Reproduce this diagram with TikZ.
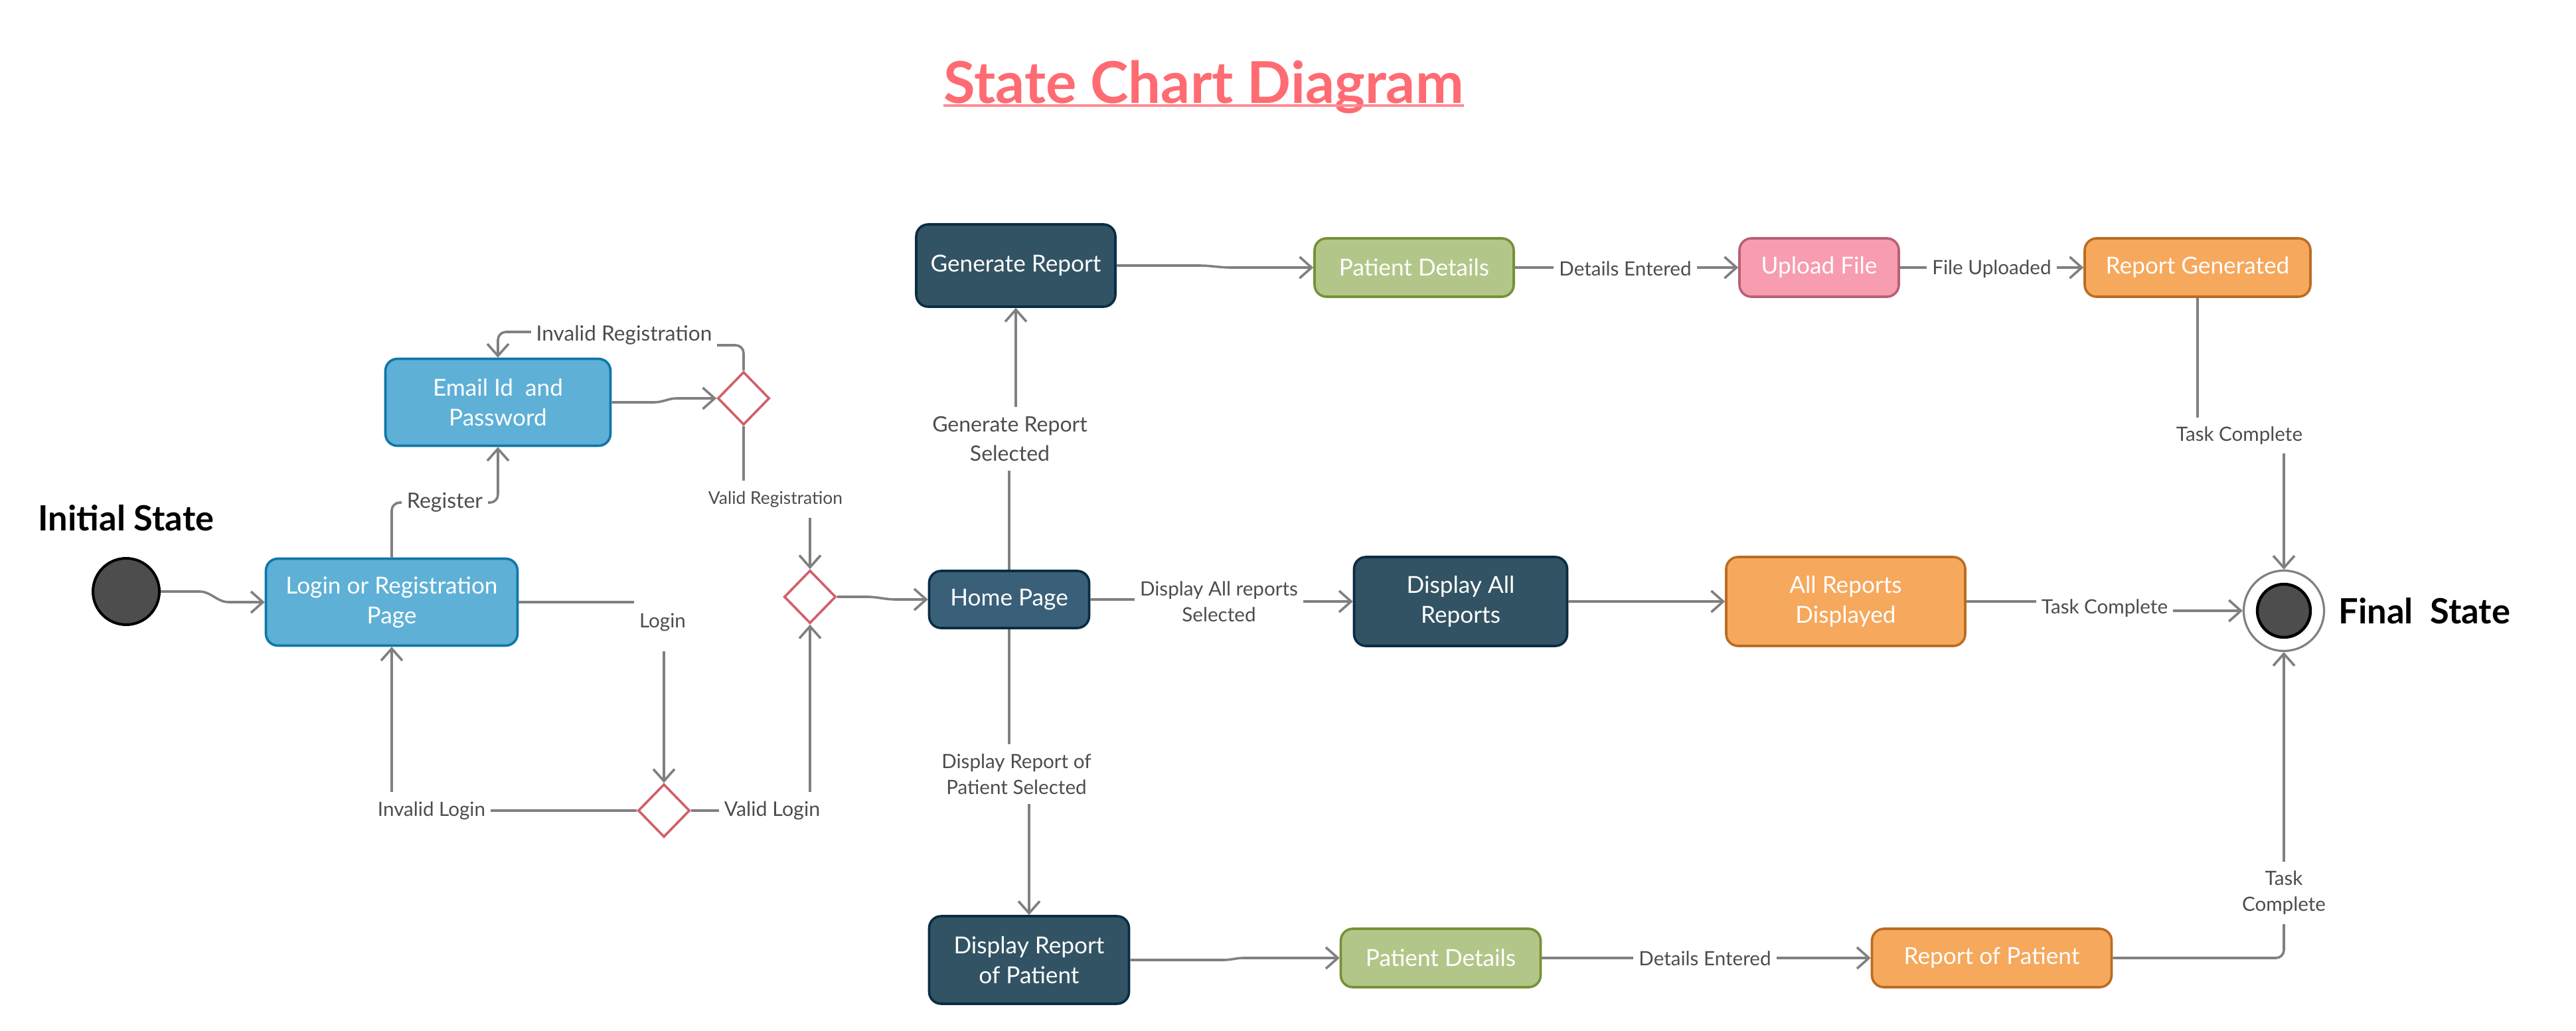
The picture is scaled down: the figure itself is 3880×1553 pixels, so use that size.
\documentclass[tikz,border=0pt]{standalone}
\usepackage{fontspec}
\setmainfont{Lato}
\usetikzlibrary{arrows.meta,shapes.geometric}
\definecolor{titlecol}{RGB}{255,107,114}
\definecolor{ulcol}{RGB}{255,140,146}
\definecolor{lbfill}{RGB}{94,176,214}
\definecolor{lbdraw}{RGB}{16,118,168}
\definecolor{dkfill}{RGB}{50,83,99}
\definecolor{dkfillb}{RGB}{58,96,121}
\definecolor{dkdraw}{RGB}{10,45,68}
\definecolor{gnfill}{RGB}{179,198,137}
\definecolor{gndraw}{RGB}{118,145,56}
\definecolor{pkfill}{RGB}{248,156,176}
\definecolor{pkdraw}{RGB}{184,96,116}
\definecolor{orfill}{RGB}{246,168,92}
\definecolor{ordraw}{RGB}{187,108,36}
\definecolor{diamcol}{RGB}{208,96,106}
\definecolor{conncol}{RGB}{128,128,128}
\definecolor{lblcol}{RGB}{77,77,77}
\definecolor{initfill}{RGB}{77,77,77}
\begin{document}
\begin{tikzpicture}[x=0.25pt,y=-0.25pt,
  statebox/.style={rounded corners=4.5pt, line width=0.9pt, align=center, text=white,
    font=\fontsize{8.8}{11.2}\selectfont, inner sep=0pt},
  lbluebox/.style={statebox, fill=lbfill, draw=lbdraw},
  darkbox/.style={statebox, fill=dkfill, draw=dkdraw},
  greenbox/.style={statebox, fill=gnfill, draw=gndraw},
  pinkbox/.style={statebox, fill=pkfill, draw=pkdraw},
  orangebox/.style={statebox, fill=orfill, draw=ordraw},
  decision/.style={diamond, draw=diamcol, fill=white, line width=0.9pt, inner sep=0pt,
    minimum width=19.5pt, minimum height=20pt},
  conn/.style={draw=conncol, line width=0.9pt, -{Straight Barb[length=4.5pt,width=8pt]}},
  lbl/.style={fill=white, text=lblcol, font=\fontsize{7.4}{9.8}\selectfont, align=center,
    inner xsep=2pt, inner ysep=3.5pt},
  biglbl/.style={text=black, font=\fontsize{13.1}{16}\selectfont\bfseries, inner sep=0pt}
]
\fill[white] (0,0) rectangle (3880,1553);
\useasboundingbox (0,0) rectangle (3880,1553);

% title
\node[anchor=base, inner sep=0pt, text=titlecol, font=\fontsize{21.7}{26}\selectfont\bfseries] (title) at (1813,155) {State Chart Diagram};
\draw[ulcol, line width=1.1pt] ([yshift=-1pt]title.base west) -- ([yshift=-1pt]title.base east);

% initial / final
\node[circle, fill=initfill, draw=black, line width=1pt, minimum size=25pt, inner sep=0pt] (init) at (190,891) {};
\node[biglbl] (initlbl) at (190,780) {Initial State};
\node[circle, draw=conncol, line width=0.8pt, fill=white, minimum size=30.25pt, inner sep=0pt] (final) at (3440,920) {};
\node[circle, fill=initfill, draw=black, line width=1.1pt, minimum size=20pt, inner sep=0pt] (finalin) at (3440,920) {};
\node[biglbl, anchor=west] (finallbl) at (3522,920) {Final\ \ State};

% states
\node[lbluebox, minimum width=94.75pt, minimum height=32.75pt] (login) at (590,907) {Login or Registration\\Page};
\node[lbluebox, minimum width=84.75pt, minimum height=32.75pt] (email) at (750,606) {Email Id\ \ and\\Password};
\node[decision] (regd) at (1120,600) {};
\node[decision] (merged) at (1220,899) {};
\node[decision] (logind) at (1000,1221) {};
\node[darkbox, fill=dkfillb, minimum width=60.25pt, minimum height=21.5pt] (home) at (1520,903) {Home Page};
\node[darkbox, minimum width=75pt, minimum height=31pt] (gen) at (1530,400) {Generate Report};
\node[greenbox, minimum width=75pt, minimum height=22pt] (pd1) at (2130,403) {Patient Details};
\node[pinkbox, minimum width=60pt, minimum height=22pt] (up) at (2740,403) {Upload File};
\node[orangebox, minimum width=85pt, minimum height=22pt] (rg) at (3310,403) {Report Generated};
\node[darkbox, minimum width=80.25pt, minimum height=33.5pt] (dar) at (2200,906) {Display All\\Reports};
\node[orangebox, minimum width=90pt, minimum height=33.5pt] (ard) at (2780,906) {All Reports\\Displayed};
\node[darkbox, minimum width=75.25pt, minimum height=33pt] (drp) at (1550,1446) {Display Report\\of Patient};
\node[greenbox, minimum width=75.25pt, minimum height=22pt] (pd2) at (2170,1443) {Patient Details};
\node[orangebox, minimum width=90.25pt, minimum height=22pt] (rop) at (3000,1443) {Report of Patient};

% connectors
\draw[conn] (init.east) -- (300,891) to[out=0,in=180] (345,907) -- (login.west);
\draw[conn, rounded corners=3pt] (login.north) |- (750,757) -- (email.south);
\draw[conn] (email.east) -- (985,606) to[out=0,in=180] (1020,600) -- (regd.west);
\draw[conn, rounded corners=3pt] (regd.north) |- (940,520) -- (940,500) -| (email.north);
\draw[conn] (regd.south) -- (1120,755) -- (1220,755) -- (merged.north);
\draw[conn] (login.east) -| (logind.north);
\draw[conn] (logind.west) -| (login.south);
\draw[conn] (logind.east) -| (merged.south);
\draw[conn] (merged.east) -- (1305,899) to[out=0,in=180] (1350,903) -- (home.west);
\draw[conn] (home.north) -- (1520,662) -- (1530,662) -- (gen.south);
\draw[conn] (gen.east) -- (1805,400) to[out=0,in=180] (1855,403) -- (pd1.west);
\draw[conn] (pd1) -- (up);
\draw[conn] (up) -- (rg);
\draw[conn] (rg.south) -- (3310,656) -- (3440,656) -- (final.north);
\draw[conn] (home.east) -- (1836,903) -- (1836,906) -- (dar.west);
\draw[conn] (dar) -- (ard);
\draw[conn] (ard.east) -- (3170,906) -- (3170,920) -- (final.west);
\draw[conn] (home.south) -- (1520,1166) -- (1550,1166) -- (drp.north);
\draw[conn] (drp.east) -- (1843,1446) to[out=0,in=180] (1873,1443) -- (pd2.west);
\draw[conn] (pd2) -- (rop);
\draw[conn, rounded corners=3pt] (rop.east) -| (final.south);

% labels
\node[lbl, font=\fontsize{8}{10}\selectfont] (lreg) at (670,757) {Register};
\node[lbl, font=\fontsize{7.9}{10}\selectfont] (linvreg) at (940,505) {Invalid Registration};
\node[lbl, font=\fontsize{6.6}{9}\selectfont, inner ysep=4pt] (lvalreg) at (1168,752) {Valid Registration};
\node[lbl, inner ysep=7.5pt] (llogin) at (998,937) {Login};
\node[lbl] (linvlog) at (650,1221) {Invalid Login};
\node[lbl, font=\fontsize{7.6}{10}\selectfont] (lvallog) at (1163,1221) {Valid Login};
\node[lbl, font=\fontsize{8}{11}\selectfont] (lgensel) at (1521,661) {Generate Report\\Selected};
\node[lbl] (ldispall) at (1836,906) {Display All reports\\Selected};
\node[lbl] (ldisprep) at (1531,1166) {Display Report of\\Patient Selected};
\node[lbl] (lde1) at (2448,405) {Details Entered};
\node[lbl] (lfu) at (3000,405) {File Uploaded};
\node[lbl] (ltc1) at (3373,656) {Task Complete};
\node[lbl] (ltc2) at (3170,916) {Task Complete};
\node[lbl] (ltc3) at (3440,1345) {Task\\Complete};
\node[lbl] (lde2) at (2568,1444) {Details Entered};
\end{tikzpicture}
\end{document}
